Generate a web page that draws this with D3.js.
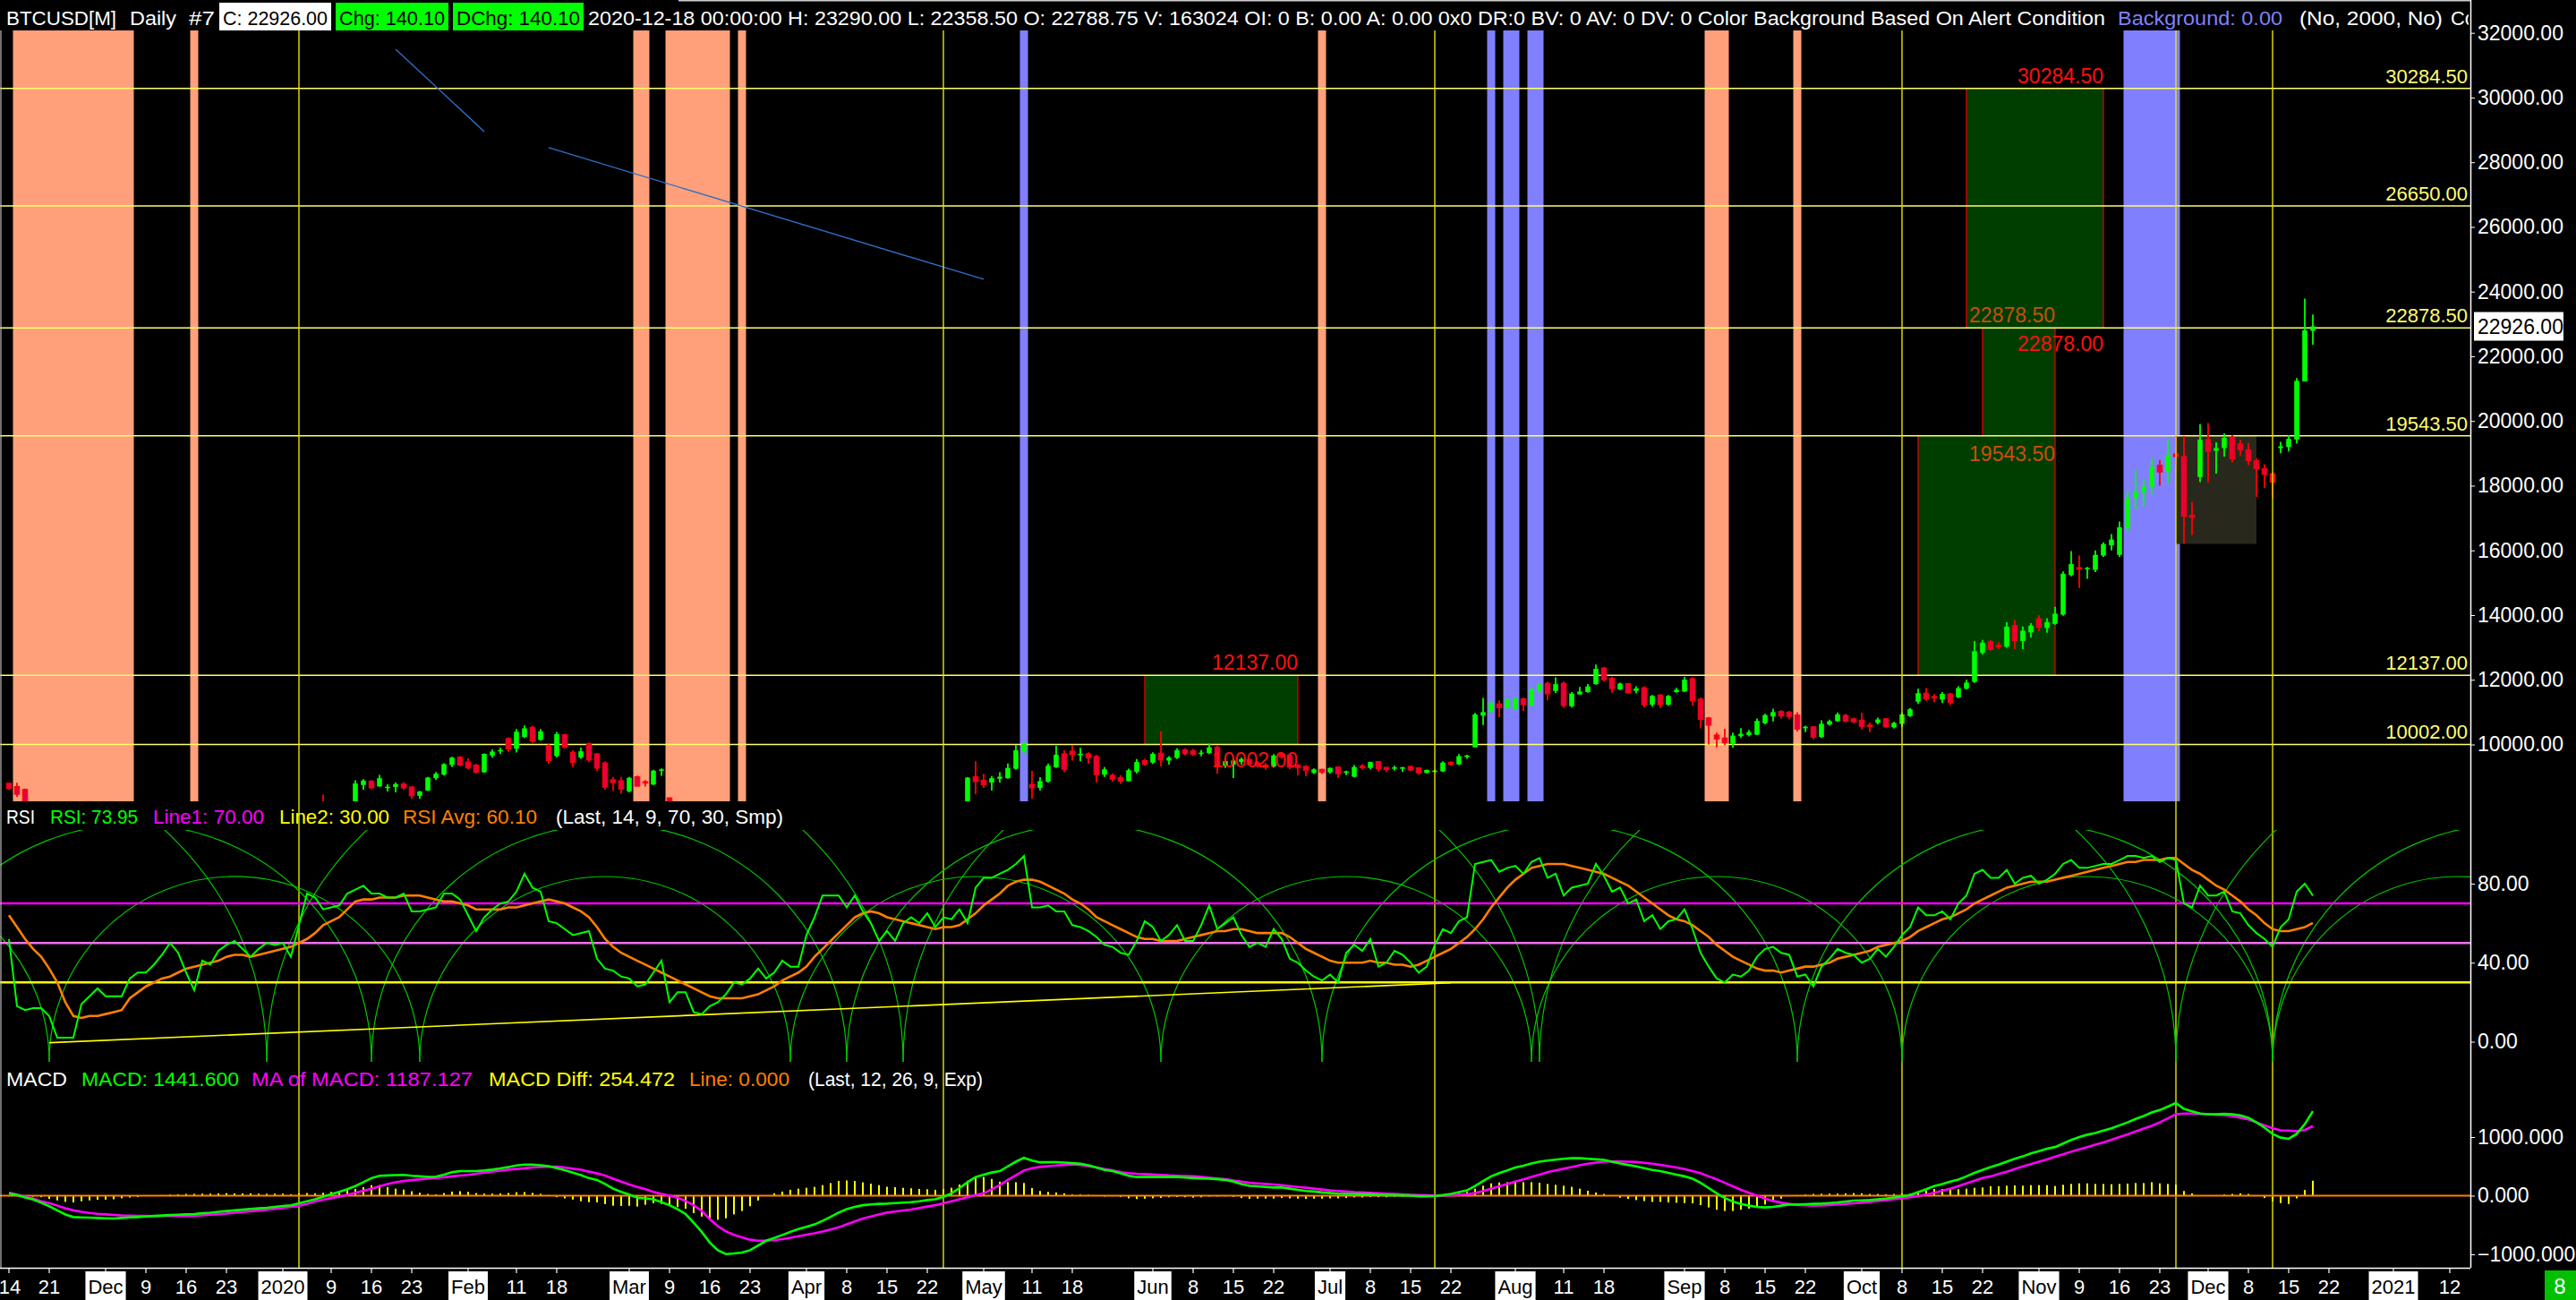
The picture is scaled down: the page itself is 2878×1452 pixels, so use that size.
<!DOCTYPE html>
<html><head><meta charset="utf-8">
<script src="https://cdn.jsdelivr.net/npm/d3@7"></script>
<style>html,body{margin:0;padding:0;background:#000;overflow:hidden}</style>
</head><body>
<svg id="chart" width="2878" height="1452"></svg>
<script>
// ---------------- DATA ----------------
const firstDay = "2019-11-14";      // first weekday bar
const lastAxisDay = "2021-01-16";   // axis runs (weekdays only) up to here
const opens = [8800,8700,8610,8170,8120,8080,7620,7050,7150,7180,7520,7430,7550,7300,7300,7200,7400,7520,7340,7220,7200,7190,7100,6880,6620,7280,7150,7510,7320,7250,7200,7190,7400,7220,7170,7180,6960,7480,7760,8160,8040,7820,8190,8110,8748,8866,8703,8658,8685,8776,8685,8412,8576,8957,9066,9366,9611,9457,9366,9140,9660,9800,10184,9866,10230,10530,10140,9950,9640,10300,9760,9600,10030,9710,9430,8910,8880,8550,9000,8850,8760,9190,8350,7940,7890,7930,4950,5380,5010,5320,5400,6180,5820,6470,6740,6690,6740,5890,6400,6420,6640,6800,6780,7330,7200,7370,7300,6900,6850,6860,6630,7120,7150,6850,6860,7130,7500,7700,7780,7760,9003,8894,8821,8939,8957,9248,9775,8766,8657,8848,9293,9711,9793,9675,9711,9630,9066,9048,8975,8866,9157,9502,9439,9730,9502,9584,9839,9802,9711,9730,9911,9339,9384,9457,9530,9439,9366,9321,9702,9666,9366,9321,9121,9230,9139,9303,9121,9003,9339,9275,9475,9293,9248,9275,9321,9275,9121,9166,9166,9450,9384,9611,9911,10892,11001,11256,11138,11092,11410,11201,11655,11892,11655,11892,11183,11547,11619,11864,12364,12046,11701,11883,11655,11755,11229,11528,11229,11619,11637,12037,11401,10820,10293,10202,10020,10257,10293,10302,10656,10865,11020,11001,10910,10502,10547,10229,10615,10720,10899,10794,10752,10600,10668,10794,10531,10636,10878,11322,11585,11480,11385,11564,11459,11722,11934,12831,13179,13063,13021,13675,13200,13464,13886,13601,13728,14013,15237,15469,15438,15396,15839,16155,15860,16683,17612,17791,17971,18636,18424,18984,18899,17084,18266,19427,19079,19163,19501,19290,19110,18773,18530,18372,19163,19195,19427,21221,22788.75];
const highs = [8810,8820,8640,8200,8200,8100,7700,7300,7300,7650,7650,7860,7560,7420,7750,7480,7580,7650,7380,7260,7260,7300,7120,6930,7400,7350,7190,7690,7440,7270,7430,7270,7410,7320,7250,7210,7400,7800,8200,8450,8050,8190,8200,8894,8930,8903,9057,8767,8821,8840,8712,8560,9000,9150,9420,9620,9640,9580,9400,9720,9850,9900,10220,10480,10590,10580,10480,10010,10390,10330,9820,9900,10060,9740,9480,9000,9000,9000,9040,8900,9220,9260,8360,8150,7950,7930,5900,5400,5500,5400,6350,6900,6620,6800,6950,6790,6860,6600,6520,6660,7150,7030,7350,7450,7400,7380,7300,6910,6990,6940,7200,7150,7220,6930,7150,7650,7600,7790,7800,8990,9484,9094,9021,9139,9412,9984,10090,9184,8990,9412,9957,9821,9984,9893,9757,9680,9303,9110,9050,9250,9550,9560,9760,10411,9640,9880,9880,9860,9830,10029,9957,9560,9560,9600,9570,9490,9430,9700,9740,9690,9390,9360,9260,9250,9290,9310,9190,9360,9390,9470,9490,9300,9340,9310,9340,9290,9225,9220,9480,9480,9700,9680,10974,11437,11330,11365,11430,11470,11456,11780,11900,11946,12073,11946,11620,11780,11870,12473,12400,12090,11910,11900,11800,11800,11530,11560,11530,11750,12090,12080,11450,10850,10365,10484,10365,10502,10450,10800,10950,11110,11060,11040,10990,10580,10560,10750,10770,10990,10950,10830,10984,10680,10830,10820,10700,10990,11130,11720,11744,11560,11620,11600,11800,12000,13200,13230,13230,13160,13780,13855,13650,13750,14000,13900,14256,15350,15976,15839,15491,15997,16250,16504,16894,17844,18477,18213,18847,18794,19427,19533,19533,17496,19902,19934,19343,19617,19564,19427,19321,18847,18667,18424,19353,19564,21327,23786,23290];
const lows = [8590,8380,8090,8000,8060,7500,6800,6600,7050,6950,7420,7410,7270,7230,7100,7170,7360,7300,7150,7150,7110,7180,6860,6560,6440,7050,7120,7270,7170,7130,7170,7080,7210,7150,7170,6930,6880,7470,7730,7880,7800,7700,8080,8100,8594,8621,8690,8549,8521,8600,8321,8320,8560,8900,9040,9300,9330,9230,9110,9120,9590,9700,9770,9750,10200,10050,10120,9400,9600,9880,9300,9560,9450,9180,8600,8560,8480,8520,8700,8700,8750,9030,7630,7740,7600,4800,3850,4450,4950,5050,5350,5700,5750,6380,6500,6550,6260,5880,6330,6150,6560,6630,6770,7080,7180,7170,6780,6600,6800,6620,6520,7000,6820,6810,6850,7020,7480,7670,7680,7730,8458,8657,8576,8821,8940,9220,9740,8321,8576,8820,9270,9139,9502,9484,9412,8821,8994,8850,8780,8850,9100,9350,9400,9321,9380,9550,9660,9650,9630,9700,9094,9270,8960,9380,9360,9280,9220,9290,9560,9240,9040,9020,9090,9090,9100,8960,9050,8980,9230,9230,9160,9150,9200,9150,9180,9070,9110,9140,9150,9350,9360,9560,9900,10600,10980,10840,11100,11050,11029,11180,11600,11365,11590,11138,11140,11540,11600,11850,11946,11600,11680,11570,11580,11150,11170,11130,11200,11600,11620,11200,10500,10000,9911,9980,9893,10200,10250,10290,10620,10710,10800,10780,10400,10380,10150,10200,10580,10700,10680,10660,10456,10380,10620,10520,10500,10530,10850,11250,11350,11300,11280,11220,11430,11700,11900,12780,12900,12950,12990,12950,12950,13300,13500,13450,13700,13980,15200,14836,15121,15330,15800,15997,15800,16600,17264,17369,17739,18002,18076,18636,16208,16472,18108,18108,18372,18899,18720,18920,18636,17654,17928,17612,19005,19058,19300,21221,22358.5];
const closes = [8640,8460,8170,8120,8080,7620,7280,7150,7180,7520,7430,7760,7300,7300,7200,7400,7540,7340,7220,7200,7190,7250,6880,6620,7280,7150,7180,7320,7250,7200,7190,7250,7220,7170,7180,6960,7340,7760,8160,8040,7820,8180,8110,8794,8885,8658,8957,8694,8776,8658,8412,8549,8976,9094,9393,9593,9366,9275,9140,9710,9780,9830,9866,10393,10500,10100,10410,9500,10320,9910,9440,9790,9520,9270,8680,8820,8620,8970,8710,8810,9190,9230,7940,7890,7930,4950,5560,5010,5320,5400,6180,6200,6470,6740,6690,6740,6360,6400,6420,6640,6800,6730,7330,7200,7370,7300,6860,6850,6860,6630,7120,7100,6850,6860,7130,7500,7540,7780,7760,8975,8848,8757,8957,9003,9275,9821,10020,8657,8866,9339,9684,9230,9684,9711,9584,9066,9230,8930,8866,9203,9457,9384,9711,9521,9593,9821,9711,9693,9748,9911,9339,9484,9502,9548,9384,9339,9293,9657,9611,9293,9275,9203,9230,9139,9275,9094,9166,9303,9275,9457,9248,9221,9293,9293,9212,9121,9212,9193,9439,9380,9639,9657,10929,11001,11292,11138,11383,11428,11229,11701,11864,11565,11864,11201,11574,11637,11792,12337,12001,11728,11883,11592,11728,11229,11501,11229,11501,11690,12001,11356,10774,10593,10166,10047,10275,10329,10384,10729,10910,11001,10883,10865,10474,10547,10229,10638,10720,10931,10720,10699,10562,10560,10773,10541,10668,10931,11089,11585,11406,11450,11564,11300,11744,11913,12883,13148,12936,13040,13643,13200,13517,13675,13622,13781,14045,15279,15575,15417,15460,15860,16197,16335,16715,17633,17823,17971,18583,18424,18952,18899,17052,17021,19427,19058,19163,19480,18826,19110,18773,18530,18351,18108,19216,19448,21242,22804,22926];

const rsiValues = [52,18,16,17,17,13,2,2,2,19,23,27,23,23,23,32,35,35,39,44,50,45,35,26,41,39,46,49,51,47,43,47,50,49,50,43,59,75,73,67,68,69,75,77,79,75,75,73,73,75,66,66,67,68,75,75,72,64,56,63,67,70,71,76,85,78,76,61,60,57,54,55,56,42,37,36,33,32,28,29,35,41,20,25,25,15,14,18,20,24,30,29,32,37,32,35,41,38,38,54,63,74,74,74,68,74,66,60,51,56,51,60,63,60,65,58,63,62,67,60,78,83,83,85,87,90,94,68,68,69,66,66,59,58,56,53,49,48,45,44,51,61,58,51,54,59,51,51,59,69,57,60,63,54,48,50,48,57,52,42,40,36,33,31,34,30,45,49,46,52,38,40,46,44,40,35,38,49,57,55,61,63,90,91,92,86,88,89,85,91,93,83,85,74,78,79,80,90,84,76,78,70,72,61,64,57,61,62,67,57,45,38,32,30,34,33,36,43,47,48,45,44,33,34,28,38,42,47,45,44,40,42,47,43,48,54,58,68,64,64,66,62,70,74,85,87,83,83,87,80,83,84,80,82,85,90,92,88,88,89,90,90,92,94,94,93,94,91,93,92,70,68,79,74,74,76,66,65,59,55,52,48,58,62,76,80,73.95];
const rsiAvgValues = [64,58,52,47,43,37,30,20,13,12,13,13,14,15,16,22,25,28,30,32,33,35,37,38,39,40,41,43,44,44,43,44,45,46,47,48,50,52,55,59,61,63,67,71,72,72,73,73,73,74,74,74,73,72,71,71,70,69,67,67,67,67,68,68,69,70,71,72,71,70,68,66,63,58,52,48,45,43,41,39,37,35,33,31,29,27,25,23,22,22,22,22,23,24,26,28,31,33,35,38,43,47,51,55,59,63,65,66,65,63,62,61,60,59,58,57,58,58,59,62,65,69,72,75,79,81,82,82,81,79,77,75,72,70,67,63,61,59,57,55,53,52,52,51,51,51,52,53,54,55,56,56,57,57,56,55,55,55,55,53,50,47,45,43,41,40,40,40,40,41,40,40,39,39,38,39,41,43,45,47,50,53,57,62,68,73,78,82,85,88,89,90,90,90,89,88,87,86,85,83,81,79,76,73,70,67,64,62,61,59,56,53,49,46,43,41,39,37,36,36,35,36,37,38,38,39,40,42,43,44,45,46,48,49,50,51,53,56,58,60,62,63,65,67,70,72,74,76,78,79,80,81,81,81,82,83,84,85,86,87,88,89,90,91,91,92,92,92,93,93,90,87,85,82,79,77,74,71,67,64,60,57,56,56,57,58,60.1];
const macdValues = [40,10,-30,-65,-120,-180,-250,-320,-364,-370,-375,-380,-385,-389,-380,-370,-364,-355,-345,-338,-330,-325,-318,-313,-300,-290,-275,-262,-250,-238,-225,-215,-205,-190,-175,-165,-130,-95,-60,-20,25,65,110,165,230,300,340,345,350,354,340,330,320,325,360,400,419,420,419,430,445,465,490,515,530,528,520,505,470,435,394,350,300,268,200,120,66,20,-35,-45,-61,-110,-162,-230,-313,-460,-616,-800,-930,-995,-985,-970,-930,-850,-768,-720,-670,-616,-570,-530,-490,-430,-360,-288,-230,-190,-162,-150,-140,-136,-125,-118,-111,-95,-75,-61,-20,40,130,230,318,360,395,419,500,580,646,600,570,570,570,565,555,545,520,480,440,419,380,340,318,318,318,318,318,318,310,300,293,290,280,268,240,200,167,160,150,140,140,120,100,80,70,55,45,35,30,30,25,25,15,10,10,5,0,-10,-10,-5,10,30,60,90,165,250,330,386,430,480,510,550,580,600,615,630,640,640,630,620,610,580,550,525,500,470,440,420,390,360,330,290,220,130,40,-40,-100,-140,-170,-190,-200,-190,-170,-150,-150,-145,-140,-135,-125,-115,-100,-85,-80,-75,-60,-50,-30,-10,10,60,110,165,200,240,275,330,390,440,490,530,580,630,670,720,760,800,830,890,950,1000,1040,1070,1110,1150,1200,1250,1310,1360,1420,1460,1520,1580,1480,1440,1400,1390,1390,1395,1390,1370,1330,1250,1160,1055,990,970,1055,1220,1441.6];
const macdAvgValues = [50,20,-15,-50,-95,-125,-170,-215,-250,-275,-295,-310,-318,-328,-336,-340,-343,-346,-348,-348,-348,-348,-348,-345,-335,-325,-315,-305,-290,-278,-265,-250,-238,-225,-210,-190,-170,-140,-100,-70,-40,-15,15,50,85,120,160,200,230,250,265,280,290,303,315,330,343,355,375,394,410,428,444,456,468,480,488,493,495,480,460,444,410,380,343,290,240,192,150,110,66,30,0,-35,-90,-162,-260,-400,-520,-610,-667,-710,-750,-768,-768,-760,-740,-717,-690,-665,-641,-610,-575,-540,-490,-440,-389,-355,-320,-288,-270,-252,-237,-210,-185,-162,-130,-95,-61,-25,10,40,110,180,270,350,430,470,490,505,515,525,535,525,505,480,455,430,400,385,375,369,362,355,345,340,336,333,320,305,293,280,260,240,220,210,200,190,180,165,150,135,120,105,90,80,70,60,55,48,40,35,28,22,15,10,5,2,0,5,15,25,45,80,120,160,200,240,280,320,360,400,430,460,490,520,545,565,580,585,585,580,575,560,545,525,505,480,455,420,380,330,280,220,160,100,50,0,-50,-90,-120,-140,-160,-165,-170,-168,-160,-150,-140,-130,-120,-105,-90,-75,-60,-45,-25,-5,20,50,85,120,165,210,255,300,330,370,410,455,500,540,580,620,665,705,750,790,830,870,910,955,1000,1045,1095,1145,1190,1250,1320,1390,1400,1400,1395,1390,1380,1375,1360,1330,1300,1250,1200,1150,1115,1110,1100,1123,1187.127];

const priceTicks = [10000,12000,14000,16000,18000,20000,22000,24000,26000,28000,30000,32000];
const rsiTicks = [0,40,80];
const macdTicks = [-1000,0,1000];
const levelPrices = [30284.5,26650,22878.5,19543.5,12137,10002];
const levelLabels = ["30284.50","26650.00","22878.50","19543.50","12137.00","10002.00"];

const axisDates = ["2019-11-14","2019-11-21","2019-12-02","2019-12-09","2019-12-16","2019-12-23","2020-01-01","2020-01-09","2020-01-16","2020-01-23","2020-02-03","2020-02-11","2020-02-18","2020-03-02","2020-03-09","2020-03-16","2020-03-23","2020-04-01","2020-04-08","2020-04-15","2020-04-22","2020-05-01","2020-05-11","2020-05-18","2020-06-01","2020-06-08","2020-06-15","2020-06-22","2020-07-01","2020-07-08","2020-07-15","2020-07-22","2020-08-03","2020-08-11","2020-08-18","2020-09-01","2020-09-08","2020-09-15","2020-09-22","2020-10-01","2020-10-08","2020-10-15","2020-10-22","2020-11-02","2020-11-09","2020-11-16","2020-11-23","2020-12-01","2020-12-08","2020-12-15","2020-12-22","2021-01-01","2021-01-12"];
const axisLabels = ["14","21","Dec","9","16","23","2020","9","16","23","Feb","11","18","Mar","9","16","23","Apr","8","15","22","May","11","18","Jun","8","15","22","Jul","8","15","22","Aug","11","18","Sep","8","15","22","Oct","8","15","22","Nov","9","16","23","Dec","8","15","22","2021","12"];

const alertBandsSalmon = [["2019-11-15","2019-12-05"],["2019-12-17","2019-12-17"],["2020-03-03","2020-03-04"],["2020-03-09","2020-03-18"],["2020-03-20","2020-03-20"],["2020-06-30","2020-06-30"],["2020-09-04","2020-09-08"],["2020-09-21","2020-09-21"]];
const alertBandsBlue = [["2020-05-08","2020-05-08"],["2020-07-29","2020-07-29"],["2020-07-31","2020-08-03"],["2020-08-05","2020-08-06"],["2020-11-17","2020-11-25"]];
const cycleDates = ["2020-01-03","2020-04-24","2020-07-20","2020-10-08","2020-11-25","2020-12-11"];

// target zones: [startDate, endDate, low, high]
const zones = [["2020-05-29","2020-06-25",10002,12137],["2020-10-12","2020-11-04",12137,19543.5],["2020-10-22","2020-11-04",19543.5,22878],["2020-10-20","2020-11-12",22878.5,30284.5]];
const grayZone = ["2020-11-25","2020-12-09",16200,19543.5];
const zoneTexts = [["2020-06-25",12137,"12137.00","#FF1010",-6],["2020-06-25",10002,"10002.00","#FF1010",26],["2020-11-12",30284.5,"30284.50","#FF1010",-6],["2020-11-04",22878.5,"22878.50","#C8500A",-6],["2020-11-12",22878,"22878.00","#FF1010",26],["2020-11-04",19543.5,"19543.50","#C8500A",28]];

const priceTrendlines = [[["2020-01-21",31494],["2020-02-05",28948]],[["2020-02-17",28450],["2020-05-01",24382]]];
const rsiTrendline = [["2019-11-21",-0.5],["2020-07-22",29.8]];
// cycle lows (bar numbers counted from the first bar) of three cycle families; a semicircle joins consecutive lows
const cycleLowsA = [-41, 5, 51, 97, 143, 189, 235, 281, 327];
const cycleLowsB = [-46, 32, 111, 190, 269, 348];
const cycleLowsC = [-14, 45, 104, 163, 222, 281, 340];

// ---------------- LAYOUT ----------------
const W = 2878, H = 1452, AX = 2760;
const P = {top: 34, bottom: 895}, R = {top: 927, bottom: 1186}, M = {top: 1219, bottom: 1416};
const FONT = "'Liberation Sans', Arial, sans-serif";

const svg = d3.select("#chart");
svg.append("rect").attr("width", W).attr("height", H).attr("fill", "#000");

const parse = d3.timeParse("%Y-%m-%d"), fmt = d3.timeFormat("%Y-%m-%d");
const days = d3.timeDay.range(parse(firstDay), parse(lastAxisDay)).filter(d => d.getDay() !== 0 && d.getDay() !== 6);
const N = days.length;
const dayIdx = new Map(days.map((d, i) => [fmt(d), i]));
const xb = d3.scaleBand().domain(d3.range(N)).range([5.5, 5.5 + 9 * N]);
const xl = d3.scaleLinear().domain([0, N - 1]).range([xb(0) + xb.bandwidth() / 2, xb(N - 1) + xb.bandwidth() / 2]);
const xi = i => xl(i);
const xd = s => xl(dayIdx.get(s));

const yP = d3.scaleLinear().domain([10000, 32000]).range([831.5, 36.7]);
const yR = d3.scaleLinear().domain([0, 80]).range([1163.5, 987]);
const yM = d3.scaleLinear().domain([-1000, 1000]).range([1401, 1270]);

const defs = svg.append("defs");
function clip(id, y0, y1) { defs.append("clipPath").attr("id", id).append("rect").attr("x", 0).attr("y", y0).attr("width", AX).attr("height", y1 - y0); }
clip("cP", P.top, P.bottom); clip("cR", R.top, R.bottom); clip("cM", M.top, M.bottom);
defs.append("clipPath").attr("id", "cHead").append("rect").attr("x", 0).attr("y", 0).attr("width", AX - 2).attr("height", 40);

// ---------------- PRICE PANE ----------------
const gP = svg.append("g").attr("clip-path", "url(#cP)");
const halfBar = 4.5;
gP.selectAll(".bs").data(alertBandsSalmon).join("rect")
  .attr("x", d => xd(d[0]) - halfBar).attr("width", d => xd(d[1]) - xd(d[0]) + 2 * halfBar)
  .attr("y", P.top).attr("height", P.bottom - P.top).attr("fill", "#FFA07A");
gP.selectAll(".bb").data(alertBandsBlue).join("rect")
  .attr("x", d => xd(d[0]) - halfBar).attr("width", d => xd(d[1]) - xd(d[0]) + 2 * halfBar)
  .attr("y", P.top).attr("height", P.bottom - P.top).attr("fill", "#8080FF");

gP.selectAll(".zone").data(zones).join("rect")
  .attr("x", d => xd(d[0])).attr("width", d => xd(d[1]) - xd(d[0]))
  .attr("y", d => yP(d[3])).attr("height", d => yP(d[2]) - yP(d[3])).attr("fill", "#003E00");
gP.append("rect").attr("x", xd(grayZone[0])).attr("width", xd(grayZone[1]) - xd(grayZone[0]))
  .attr("y", yP(grayZone[3])).attr("height", yP(grayZone[2]) - yP(grayZone[3])).attr("fill", "#28281C");
zones.forEach(z => {
  [z[0], z[1]].forEach(dt => gP.append("line").attr("x1", xd(dt)).attr("x2", xd(dt))
    .attr("y1", yP(z[3])).attr("y2", yP(z[2])).attr("stroke", "#E00000").attr("stroke-width", 1.3));
});

gP.selectAll(".lvl").data(levelPrices).join("line")
  .attr("x1", 0).attr("x2", AX).attr("y1", d => yP(d)).attr("y2", d => yP(d))
  .attr("stroke", "#FFFF70").attr("stroke-width", 1.6);

cycleDates.forEach(dt => {
  svg.append("line").attr("x1", xd(dt)).attr("x2", xd(dt)).attr("y1", P.top).attr("y2", M.bottom)
    .attr("stroke", "#E6E600").attr("stroke-width", 1.4);
});

priceTrendlines.forEach(t => {
  gP.append("line").attr("x1", xd(t[0][0])).attr("y1", yP(t[0][1])).attr("x2", xd(t[1][0])).attr("y2", yP(t[1][1]))
    .attr("stroke", "#2F6FC8").attr("stroke-width", 1.4);
});

const bars = closes.map((c, i) => ({i, o: opens[i], h: highs[i], l: lows[i], c}));
const bw = 5.6;
gP.selectAll(".wick").data(bars).join("line")
  .attr("x1", d => xi(d.i)).attr("x2", d => xi(d.i)).attr("y1", d => yP(d.h)).attr("y2", d => yP(d.l))
  .attr("stroke", d => d.c >= d.o ? "#00FF00" : "#FF0000").attr("stroke-width", 1.8);
gP.selectAll(".body").data(bars).join("rect")
  .attr("x", d => xi(d.i) - bw / 2).attr("width", bw)
  .attr("y", d => yP(Math.max(d.o, d.c))).attr("height", d => Math.max(1.6, Math.abs(yP(d.o) - yP(d.c))))
  .attr("fill", d => d.c >= d.o ? "#00FF00" : "#E8003C")
  .attr("stroke", d => d.c >= d.o ? "none" : "#FF0000").attr("stroke-width", 1);

zoneTexts.forEach(t => {
  svg.append("text").attr("x", xd(t[0])).attr("y", yP(t[1]) + t[4]).attr("text-anchor", "end")
    .attr("font-family", FONT).attr("font-size", 23).attr("fill", t[3]).text(t[2]);
});
levelPrices.forEach((p, k) => {
  svg.append("text").attr("x", AX - 3).attr("y", yP(p) - 6).attr("text-anchor", "end")
    .attr("font-family", FONT).attr("font-size", 22).attr("fill", "#FFFF70").text(levelLabels[k]);
});

// ---------------- RSI PANE ----------------
const gR = svg.append("g").attr("clip-path", "url(#cR)");
[cycleLowsA, cycleLowsB, cycleLowsC].forEach(lows => {
  d3.pairs(lows).forEach(([a, b]) => {
    const xa = xl(a), xz = xl(b), cx = (xa + xz) / 2, r = (xz - xa) / 2;
    const path = d3.path();
    path.arc(cx, R.bottom, r, Math.PI, 2 * Math.PI);
    gR.append("path").attr("d", path.toString()).attr("fill", "none").attr("stroke", "#00C800").attr("stroke-width", 1.2);
  });
});
[[70, "#FF00FF"], [50, "#F070F0"], [30, "#FFFF00"]].forEach(l => {
  gR.append("line").attr("x1", 0).attr("x2", AX).attr("y1", yR(l[0])).attr("y2", yR(l[0])).attr("stroke", l[1]).attr("stroke-width", 2.6);
});
gR.append("line").attr("x1", xd(rsiTrendline[0][0])).attr("y1", yR(rsiTrendline[0][1]))
  .attr("x2", xd(rsiTrendline[1][0])).attr("y2", yR(rsiTrendline[1][1])).attr("stroke", "#FFFF00").attr("stroke-width", 1.6);
gR.append("path").datum(rsiAvgValues).attr("fill", "none").attr("stroke", "#FF8000").attr("stroke-width", 2.6)
  .attr("d", d3.line().x((d, i) => xi(i)).y(d => yR(d)));
gR.append("path").datum(rsiValues).attr("fill", "none").attr("stroke", "#00FF00").attr("stroke-width", 2)
  .attr("d", d3.line().x((d, i) => xi(i)).y(d => yR(d)));

// ---------------- MACD PANE ----------------
const gM = svg.append("g").attr("clip-path", "url(#cM)");
gM.selectAll(".hist").data(macdValues).join("rect")
  .attr("x", (d, i) => xi(i) - 1).attr("width", 2)
  .attr("y", (d, i) => Math.min(yM(0), yM(d - macdAvgValues[i])))
  .attr("height", (d, i) => Math.abs(yM(d - macdAvgValues[i]) - yM(0)))
  .attr("fill", "#FFFF00");
gM.append("line").attr("x1", 0).attr("x2", AX).attr("y1", yM(0)).attr("y2", yM(0)).attr("stroke", "#FF8000").attr("stroke-width", 2.2);
gM.append("path").datum(macdAvgValues).attr("fill", "none").attr("stroke", "#FF00FF").attr("stroke-width", 2.6)
  .attr("d", d3.line().x((d, i) => xi(i)).y(d => yM(d)));
gM.append("path").datum(macdValues).attr("fill", "none").attr("stroke", "#00FF00").attr("stroke-width", 2.6)
  .attr("d", d3.line().x((d, i) => xi(i)).y(d => yM(d)));

// ---------------- AXES ----------------
svg.append("line").attr("x1", AX + 0.5).attr("x2", AX + 0.5).attr("y1", 0).attr("y2", M.bottom).attr("stroke", "#fff").attr("stroke-width", 1.5);
svg.append("line").attr("x1", 0).attr("x2", AX).attr("y1", M.bottom + 0.5).attr("y2", M.bottom + 0.5).attr("stroke", "#fff").attr("stroke-width", 1.5);
svg.append("line").attr("x1", 1).attr("x2", 1).attr("y1", P.top).attr("y2", M.bottom).attr("stroke", "#bbb").attr("stroke-width", 1.2);
svg.append("line").attr("x1", 758).attr("x2", AX).attr("y1", 0.8).attr("y2", 0.8).attr("stroke", "#ccc").attr("stroke-width", 1.6);

function rightAxis(scale, ticks, fmtf) {
  const g = svg.append("g").attr("transform", `translate(${AX},0)`);
  const ax = d3.axisRight(scale).tickValues(ticks).tickSize(5).tickPadding(3).tickFormat(fmtf);
  g.call(ax);
  g.select(".domain").remove();
  g.selectAll(".tick line").attr("stroke", "#fff");
  g.selectAll(".tick text").attr("fill", "#fff").attr("font-family", FONT).attr("font-size", 23);
}
rightAxis(yP, priceTicks, d3.format(".2f"));
rightAxis(yR, rsiTicks, d3.format(".2f"));
rightAxis(yM, macdTicks, d3.format(".3f"));

svg.append("rect").attr("x", AX + 4).attr("y", yP(22926) - 16).attr("width", 100).attr("height", 32).attr("fill", "#fff");
svg.append("text").attr("x", AX + 8).attr("y", yP(22926) + 8).attr("font-family", FONT).attr("font-size", 23).attr("fill", "#000").text("22926.00");

const gX = svg.append("g");
axisDates.forEach((dt, k) => {
  const xx = Math.max(xd(dt), 11), lab = axisLabels[k];
  const isMonth = !/^\d{1,2}$/.test(lab);
  gX.append("line").attr("x1", xd(dt)).attr("x2", xd(dt)).attr("y1", M.bottom + 1).attr("y2", M.bottom + 6).attr("stroke", "#fff").attr("stroke-width", 1.2);
  const t = gX.append("text").attr("x", xx).attr("y", 1445).attr("text-anchor", "middle")
    .attr("font-family", FONT).attr("font-size", 22).attr("fill", isMonth ? "#000" : "#fff").text(lab);
  if (isMonth) {
    const w = t.node().getComputedTextLength() + 6;
    gX.insert("rect", "text").attr("x", xx - w / 2).attr("y", 1420).attr("width", w).attr("height", 32).attr("fill", "#fff");
  }
});
svg.append("rect").attr("x", 2843).attr("y", 1419).attr("width", 35).attr("height", 33).attr("fill", "#00C000");
svg.append("text").attr("x", 2860).attr("y", 1445).attr("text-anchor", "middle").attr("font-family", FONT).attr("font-size", 24).attr("fill", "#fff").text("8");

// ---------------- HEADERS ----------------
function seg(g, x, y, txt, len, color, size) {
  g.append("text").attr("x", x).attr("y", y).attr("font-family", FONT).attr("font-size", size || 22)
    .attr("fill", color).attr("textLength", len).attr("lengthAdjust", "spacingAndGlyphs").text(txt);
}
const gH = svg.append("g").attr("clip-path", "url(#cHead)");
gH.append("rect").attr("x", 245).attr("y", 3).attr("width", 125).attr("height", 31).attr("fill", "#fff");
gH.append("rect").attr("x", 375).attr("y", 3).attr("width", 126).attr("height", 31).attr("fill", "#00FF00");
gH.append("rect").attr("x", 506).attr("y", 3).attr("width", 146).attr("height", 31).attr("fill", "#00FF00");
const headerSegs = [[7, "BTCUSD[M]", 123, "#fff"], [145, "Daily", 52, "#fff"], [211, "#7", 29, "#fff"],
  [249, "C: 22926.00", 117, "#000"], [379, "Chg: 140.10", 118, "#000"], [510, "DChg: 140.10", 138, "#000"],
  [657, "2020-12-18 00:00:00 H: 23290.00 L: 22358.50 O: 22788.75 V: 163024 OI: 0 B: 0.00 A: 0.00 0x0 DR:0 BV: 0 AV: 0 DV: 0 Color Background Based On Alert Condition", 1695, "#fff"],
  [2366, "Background: 0.00", 184, "#8080FF"], [2569, "(No, 2000, No)", 160, "#fff"], [2738, "Co", 28, "#fff"]];
headerSegs.forEach(s => seg(gH, s[0], 28, s[1], s[2], s[3]));

const rsiHead = [[7, "RSI", 32, "#fff"], [56, "RSI: 73.95", 98, "#00FF00"], [171, "Line1: 70.00", 124, "#FF00FF"],
  [312, "Line2: 30.00", 123, "#FFFF00"], [450, "RSI Avg: 60.10", 150, "#FF8000"], [621, "(Last, 14, 9, 70, 30, Smp)", 254, "#fff"]];
rsiHead.forEach(s => seg(svg, s[0], 920, s[1], s[2], s[3]));
const macdHead = [[7, "MACD", 68, "#fff"], [91, "MACD: 1441.600", 176, "#00FF00"], [281, "MA of MACD: 1187.127", 247, "#FF00FF"],
  [546, "MACD Diff: 254.472", 208, "#FFFF00"], [770, "Line: 0.000", 112, "#FF8000"], [903, "(Last, 12, 26, 9, Exp)", 195, "#fff"]];
macdHead.forEach(s => seg(svg, s[0], 1213, s[1], s[2], s[3]));
</script>
</body></html>
